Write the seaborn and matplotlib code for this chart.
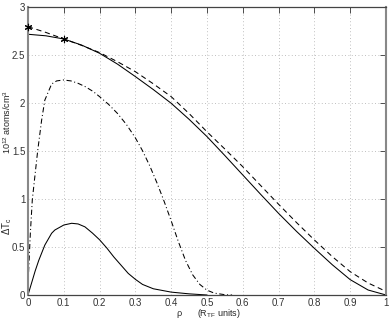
import numpy as np
import pandas as pd
import matplotlib
matplotlib.use('agg')
import matplotlib.pyplot as plt
import seaborn as sns

# upper solid curve (density, full)
rho_a = [0.0, 0.05, 0.1, 0.15, 0.2, 0.25, 0.3, 0.35, 0.4, 0.45, 0.5, 0.55,
         0.6, 0.65, 0.7, 0.75, 0.8, 0.85, 0.9, 0.95, 1.0]
dens_a = [2.716, 2.700, 2.667, 2.603, 2.518, 2.405, 2.275, 2.140, 1.997, 1.830,
          1.650, 1.452, 1.250, 1.048, 0.850, 0.663, 0.486, 0.315, 0.160, 0.052, 0.0]

# dashed curve
rho_b = [0.0, 0.05, 0.1, 0.15, 0.2, 0.25, 0.3, 0.35, 0.4, 0.45, 0.5, 0.55,
         0.6, 0.65, 0.7, 0.75, 0.8, 0.85, 0.9, 0.95, 0.99]
dens_b = [2.795, 2.735, 2.667, 2.600, 2.525, 2.430, 2.326, 2.200, 2.066, 1.890,
          1.700, 1.520, 1.336, 1.140, 0.945, 0.755, 0.573, 0.400, 0.243, 0.125, 0.055]

# dash-dot curve
rho_c = [0.0, 0.001, 0.0065, 0.012, 0.019, 0.027, 0.038, 0.047, 0.066, 0.08,
         0.099, 0.12, 0.14, 0.16, 0.182, 0.2, 0.225, 0.25, 0.275, 0.3, 0.32,
         0.34, 0.36, 0.38, 0.4, 0.42, 0.44, 0.46, 0.48, 0.5, 0.52, 0.55, 0.57]
dens_c = [0.0, 0.19, 0.64, 0.99, 1.23, 1.50, 1.82, 2.03, 2.198, 2.23,
          2.24, 2.23, 2.205, 2.17, 2.12, 2.066, 1.986, 1.891, 1.776, 1.636, 1.502,
          1.346, 1.170, 0.978, 0.772, 0.556, 0.360, 0.210, 0.110, 0.050, 0.020,
          0.003, 0.0]

# lower solid curve (Delta T_c)
rho_d = [0.0, 0.01, 0.02, 0.03, 0.047, 0.066, 0.075, 0.1, 0.122, 0.14, 0.159,
         0.18, 0.2, 0.22, 0.24, 0.26, 0.28, 0.3, 0.32, 0.35, 0.4, 0.45, 0.5]
dtc_d = [0.0, 0.125, 0.25, 0.36, 0.52, 0.643, 0.677, 0.729, 0.747, 0.74, 0.71,
         0.645, 0.575, 0.49, 0.395, 0.31, 0.225, 0.163, 0.11, 0.065, 0.03, 0.012, 0.0]

# asterisk markers
star_x = [0.0, 0.1]
star_y = [2.795, 2.667]

xticks = [0, 0.1, 0.2, 0.3, 0.4, 0.5, 0.6, 0.7, 0.8, 0.9, 1]
xticklabels = ['0', '0.1', '0.2', '0.3', '0.4', '0.5', '0.6', '0.7', '0.8', '0.9', '1']
yticks = [0, 0.5, 1, 1.5, 2, 2.5, 3]
yticklabels = ['0', '0.5', '1', '1.5', '2', '2.5', '3']

sns.set_style('white')
plt.rcParams['font.family'] = ['Liberation Sans', 'DejaVu Sans']
plt.rcParams['mathtext.fontset'] = 'custom'
plt.rcParams['mathtext.rm'] = 'Liberation Sans'
plt.rcParams['mathtext.it'] = 'Liberation Sans'

fig = plt.figure(figsize=(3.91, 3.19), dpi=100)
ax = fig.add_axes([28 / 391, 24 / 319, 358 / 391, 288 / 319])

lw = 0.75
sns.lineplot(x=rho_a, y=dens_a, ax=ax, color='k', lw=lw, sort=False)
sns.lineplot(x=rho_b, y=dens_b, ax=ax, color='k', lw=lw, sort=False,
             linestyle=(0, (5, 3.5)))
sns.lineplot(x=rho_c, y=dens_c, ax=ax, color='k', lw=lw, sort=False,
             linestyle=(0, (5, 2.5, 1, 2.5)))
sns.lineplot(x=rho_d, y=dtc_d, ax=ax, color='k', lw=lw, sort=False)
sns.scatterplot(x=star_x, y=star_y, ax=ax, color='k', marker=(6, 2, 0), s=22,
                linewidth=0.8, edgecolor='k', zorder=5, clip_on=False)

ax.set_xlim(0, 1)
ax.set_ylim(0, 3)
ax.set_xticks(xticks)
ax.set_xticklabels(xticklabels)
ax.set_yticks(yticks)
ax.set_yticklabels(yticklabels)
ax.tick_params(direction='in', length=4, width=0.6, top=True, right=True,
               labelsize=7, pad=2, colors='#333333')
ax.grid(True, linestyle=(0, (1, 3)), color='#aaaaaa', lw=0.6)
for side in ['left', 'right']:
    ax.spines[side].set_color('#888888')
    ax.spines[side].set_linewidth(1.5)
for side in ['top', 'bottom']:
    ax.spines[side].set_color('#444444')
    ax.spines[side].set_linewidth(0.9)

fig.text(7 / 391, 1 - 122 / 319, '$10^{12}$ atoms/cm$^3$', rotation=90,
         ha='center', va='center', fontsize=6.5)
fig.text(7 / 391, 1 - 226 / 319, 'ΔT$_c$', rotation=90,
         ha='center', va='center', fontsize=7)
fig.text(179 / 391, 1 - 314 / 319, 'ρ', ha='center', va='center', fontsize=6.5)
fig.text(219 / 391, 1 - 313.5 / 319, '(R$_{TF}$ units)', ha='center',
         va='center', fontsize=6.5)

fig.savefig('out.png', dpi=100)
plt.close(fig)
